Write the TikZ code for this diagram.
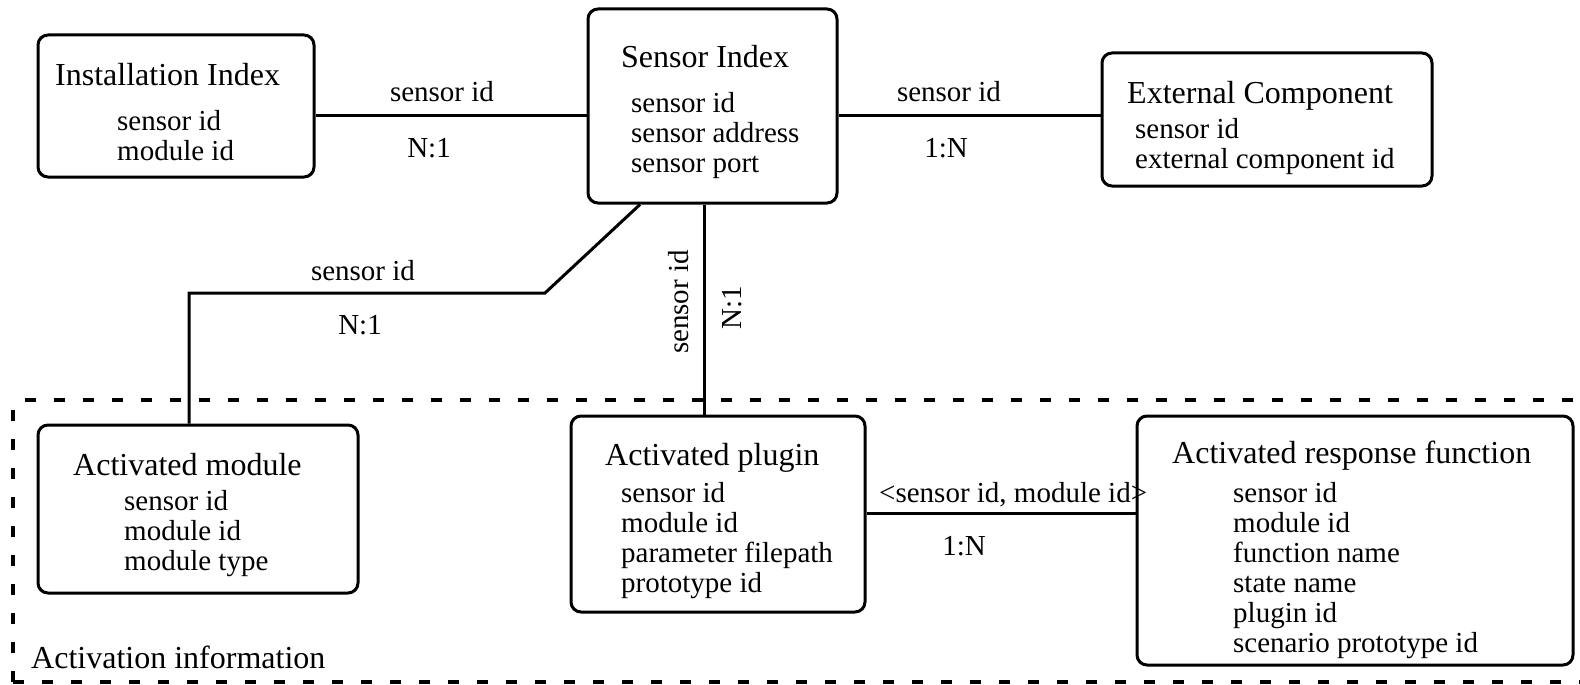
\documentclass[tikz,border=0pt]{standalone}
\usepackage{fontspec}
\setmainfont{Liberation Serif}
\begin{document}
\begin{tikzpicture}[x=1pt,y=-1pt,
  ebox/.style={draw, line width=3pt, rounded corners=10pt, inner sep=0pt},
  ttl/.style={anchor=base west, inner sep=0pt, font=\fontsize{32}{34}\selectfont},
  attr/.style={anchor=base west, inner sep=0pt, font=\fontsize{29}{30}\selectfont},
  lbl/.style={anchor=base, inner sep=0pt, font=\fontsize{29}{30}\selectfont},
  link/.style={line width=3pt},
  groupline/.style={line width=3.5pt, dash pattern=on 11pt off 18pt, rounded corners=8pt}
]
\useasboundingbox (0,0) rectangle (1580,685);
\clip (0,0) rectangle (1580,685);

% dashed group around the activation tables
\draw[groupline] (13,682) -- (13,400) -- (1640,400);
\draw[groupline] (13,682) -- (1640,682);
\node[ttl] (grp) at (31,668) {Activation information};

% entity boxes
\node[ebox, minimum width=276pt, minimum height=142pt] (inst) at (176,106) {};
\node[ebox, minimum width=249pt, minimum height=194pt] (sens) at (712.5,106) {};
\node[ebox, minimum width=330pt, minimum height=133pt] (ext)  at (1267,119.5) {};
\node[ebox, minimum width=320pt, minimum height=168pt] (mod)  at (198,509) {};
\node[ebox, minimum width=294pt, minimum height=196pt] (plug) at (718,514) {};
\node[ebox, minimum width=436pt, minimum height=249pt] (resp) at (1355,540.5) {};

% Installation Index
\node[ttl]  (instT)  at (55,85)   {Installation Index};
\node[attr] (instA1) at (117,130) {sensor id};
\node[attr] (instA2) at (117,160) {module id};

% Sensor Index
\node[ttl]  (sensT)  at (621,67)  {Sensor Index};
\node[attr] (sensA1) at (631,112) {sensor id};
\node[attr] (sensA2) at (631,142) {sensor address};
\node[attr] (sensA3) at (631,172) {sensor port};

% External Component
\node[ttl]  (extT)  at (1127,103) {External Component};
\node[attr] (extA1) at (1135,138) {sensor id};
\node[attr] (extA2) at (1135,168) {external component id};

% Activated module
\node[ttl]  (modT)  at (73,475)  {Activated module};
\node[attr] (modA1) at (124,510) {sensor id};
\node[attr] (modA2) at (124,540) {module id};
\node[attr] (modA3) at (124,570) {module type};

% Activated plugin
\node[ttl]  (plugT)  at (605,465) {Activated plugin};
\node[attr] (plugA1) at (621,502) {sensor id};
\node[attr] (plugA2) at (621,532) {module id};
\node[attr] (plugA3) at (621,562) {parameter filepath};
\node[attr] (plugA4) at (621,592) {prototype id};

% Activated response function
\node[ttl]  (respT)  at (1172,463) {Activated response function};
\node[attr] (respA1) at (1233,502) {sensor id};
\node[attr] (respA2) at (1233,532) {module id};
\node[attr] (respA3) at (1233,562) {function name};
\node[attr] (respA4) at (1233,592) {state name};
\node[attr] (respA5) at (1233,622) {plugin id};
\node[attr] (respA6) at (1233,652) {scenario prototype id};

% relations
\draw[link] (inst.east |- 0,115) -- (sens.west |- 0,115);
\node[lbl] (l1a) at (442,102) {sensor id};
\node[lbl] (l1b) at (429,157) {N:1};

\draw[link] (sens.east |- 0,115) -- (ext.west |- 0,115);
\node[lbl] (l2a) at (949,102) {sensor id};
\node[lbl] (l2b) at (946,157) {1:N};

\coordinate (bend) at (545,293);
\coordinate (corner) at (189,293);
\draw[link] (sens.south -| 640,0) -- (bend) -- (corner) -- (mod.north -| corner);
\node[lbl] (l3a) at (363,280) {sensor id};
\node[lbl] (l3b) at (360,334) {N:1};

\draw[link] (sens.south -| 704,0) -- (plug.north -| 704,0);
\node[lbl, rotate=90] (l4a) at (688,302) {sensor id};
\node[lbl, rotate=90] (l4b) at (741,307.5) {N:1};

\draw[link] (plug.east |- 0,513) -- (resp.west |- 0,513);
\node[attr] (l5a) at (879,502) {<sensor id, module id>};
\node[lbl] (l5b) at (964,555) {1:N};
\end{tikzpicture}
\end{document}
